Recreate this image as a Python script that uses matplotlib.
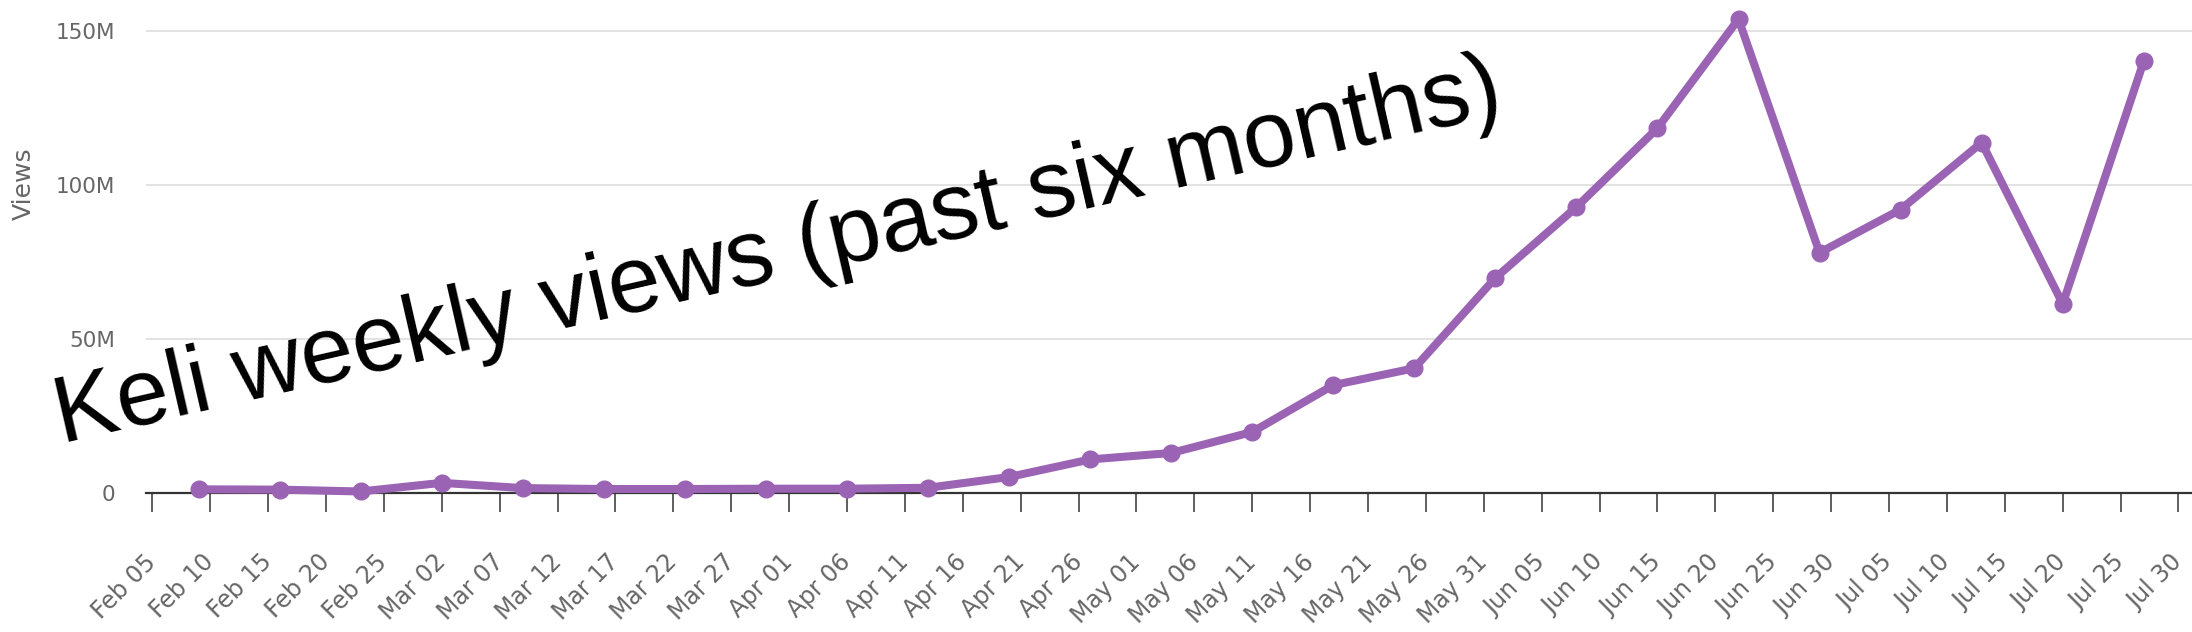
import pandas as pd
import matplotlib
matplotlib.use('Agg')
import matplotlib.pyplot as plt
import matplotlib.dates as mdates
from matplotlib.ticker import FixedLocator, FuncFormatter

# weekly view counts, millions
weeks = ['2025-02-09', '2025-02-16', '2025-02-23', '2025-03-02', '2025-03-09',
         '2025-03-16', '2025-03-23', '2025-03-30', '2025-04-06', '2025-04-13',
         '2025-04-20', '2025-04-27', '2025-05-04', '2025-05-11', '2025-05-18',
         '2025-05-25', '2025-06-01', '2025-06-08', '2025-06-15', '2025-06-22',
         '2025-06-29', '2025-07-06', '2025-07-13', '2025-07-20', '2025-07-27']
viewsM = [1.2, 1.1, 0.5, 3.3, 1.6,
          1.3, 1.3, 1.4, 1.4, 1.7,
          5.2, 10.9, 13.0, 19.8, 35.0,
          40.5, 69.8, 92.8, 118.4, 153.8,
          78.0, 92.0, 113.7, 61.4, 140.1]
yTicks = [0, 50e6, 100e6, 150e6]
title = 'Keli weekly views (past six months)'

dates = pd.to_datetime(weeks)
views = [v * 1e6 for v in viewsM]

fig = plt.figure(figsize=(21.92, 6.32), dpi=100)
ax = fig.add_axes([0.0666, 0.2199, 0.9334, 0.7801])

ax.plot(dates, views, color='#9b63b4', linewidth=5.8, marker='o', markersize=12,
        zorder=4, clip_on=False)

# axes limits / ticks
ax.set_ylim(0, 160e6)
ax.set_xlim(pd.Timestamp('2025-02-05') - pd.Timedelta(hours=13),
            pd.Timestamp('2025-07-30') + pd.Timedelta(hours=28))

tickDates = pd.date_range('2025-02-05', '2025-07-30', freq='5D')
ax.xaxis.set_major_locator(FixedLocator(mdates.date2num(tickDates)))
ax.xaxis.set_major_formatter(mdates.DateFormatter('%b %d'))
ax.yaxis.set_major_locator(FixedLocator(yTicks))
ax.yaxis.set_major_formatter(FuncFormatter(lambda v, p: '0' if v == 0 else '%dM' % (v / 1e6)))

ax.tick_params(axis='x', length=14, width=1.1, color='#333333', pad=33,
               labelsize=17, labelcolor='#666666')
ax.tick_params(axis='y', length=0, pad=22, labelsize=15.5, labelcolor='#666666')
# labels hang from their middle-right point so the last one stays inside the figure
for lbl in ax.get_xticklabels():
    lbl.set_rotation(45)
    lbl.set_ha('right')
    lbl.set_va('center')
    lbl.set_rotation_mode('anchor')

for s in ['top', 'right', 'left']:
    ax.spines[s].set_visible(False)
ax.spines['bottom'].set_color('#333333')
ax.spines['bottom'].set_linewidth(1.6)
ax.spines['bottom'].set_zorder(3)

ax.yaxis.grid(True, color='#e2e2e2', linewidth=1.4)
ax.set_axisbelow(True)

ax.set_ylabel('Views', fontsize=18, color='#666666')
ax.yaxis.set_label_coords(-0.054, 0.627)

fig.text(0.0283, 0.299, title, fontsize=68, family=['Liberation Sans', 'DejaVu Sans'],
         color='black', rotation=12.9, rotation_mode='anchor',
         ha='left', va='baseline', zorder=10)

fig.savefig('out.png', dpi=100)
